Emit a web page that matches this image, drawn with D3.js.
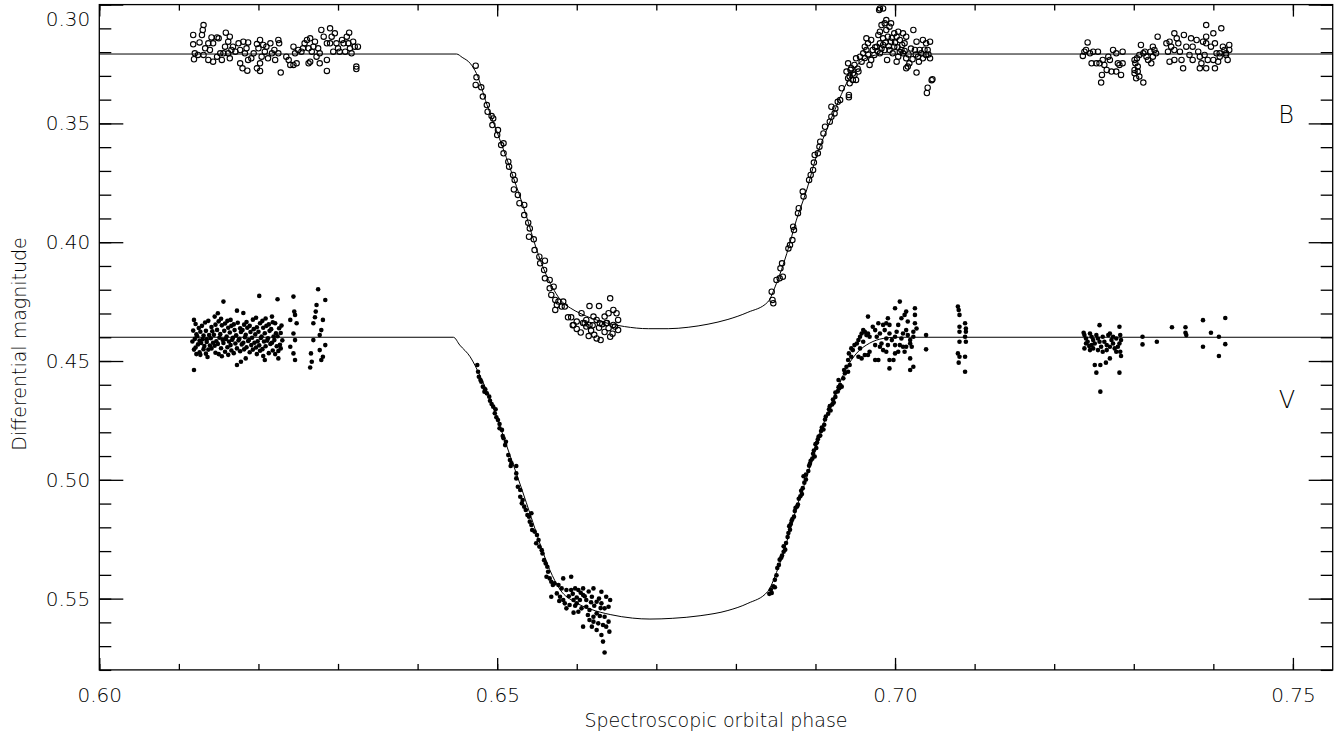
<!DOCTYPE html>
<html><head><meta charset="utf-8">
<script src="https://cdn.jsdelivr.net/npm/d3@7"></script>
<style>
html,body{margin:0;padding:0;background:#fff;}
svg{display:block;}
text{font-family:"DejaVu Sans",sans-serif;font-weight:200;fill:#000;}
</style></head><body>
<svg id="chart" width="1342" height="735"></svg>
<script>
// ---------- axes ----------
const xDomain = [0.60, 0.755];
const yDomain = [0.30, 0.58];
const xMajorTicks = [0.60, 0.65, 0.70, 0.75];
const xTickLabels = ["0.60", "0.65", "0.70", "0.75"];
const yMajorTicks = [0.30, 0.35, 0.40, 0.45, 0.50, 0.55];
const yTickLabels = ["0.30", "0.35", "0.40", "0.45", "0.50", "0.55"];
const xTitle = "Spectroscopic orbital phase";
const yTitle = "Differential magnitude";
const seriesLabels = ["B", "V"];

// ---------- model curves ----------
const bModel = [[0.6000,0.3208],[0.6449,0.3208],[0.6456,0.3222],[0.6466,0.3247],[0.6474,0.3290],[0.6487,0.3420],[0.6503,0.3565],[0.6520,0.3724],[0.6537,0.3893],[0.6549,0.4025],[0.6562,0.4140],[0.6572,0.4205],[0.6580,0.4245],[0.6592,0.4277],[0.6604,0.4299],[0.6620,0.4322],[0.6640,0.4342],[0.6660,0.4355],[0.6690,0.4364],[0.6715,0.4364],[0.6740,0.4358],[0.6765,0.4345],[0.6790,0.4325],[0.6815,0.4295],[0.6840,0.4252],[0.6851,0.4173],[0.6864,0.4047],[0.6876,0.3907],[0.6889,0.3780],[0.6901,0.3640],[0.6914,0.3528],[0.6926,0.3430],[0.6939,0.3331],[0.6951,0.3261],[0.6960,0.3232],[0.6968,0.3219],[0.6985,0.3209],[0.7000,0.3208],[0.7550,0.3208]];
const vModel = [[0.6000,0.4400],[0.6445,0.4400],[0.6453,0.4433],[0.6466,0.4482],[0.6479,0.4566],[0.6490,0.4650],[0.6503,0.4770],[0.6516,0.4896],[0.6530,0.5030],[0.6543,0.5160],[0.6556,0.5290],[0.6566,0.5378],[0.6579,0.5462],[0.6598,0.5515],[0.6617,0.5544],[0.6642,0.5567],[0.6670,0.5582],[0.6692,0.5586],[0.6720,0.5583],[0.6755,0.5572],[0.6790,0.5550],[0.6815,0.5520],[0.6840,0.5470],[0.6851,0.5390],[0.6864,0.5260],[0.6876,0.5120],[0.6889,0.4990],[0.6901,0.4850],[0.6914,0.4730],[0.6926,0.4630],[0.6939,0.4530],[0.6951,0.4470],[0.6968,0.4425],[0.6985,0.4405],[0.7000,0.4400],[0.7550,0.4400]];

// ---------- B band observations (open circles) ----------
const bOutLeft = [[0.6131,0.3086],[0.6130,0.3107],[0.6129,0.3128],[0.6118,0.3128],[0.6118,0.3167],[0.6126,0.3159],[0.6120,0.3205],[0.6119,0.3230],[0.6124,0.3212],[0.6131,0.3212],[0.6133,0.3184],[0.6137,0.3163],[0.6141,0.3138],[0.6148,0.3138],[0.6143,0.3163],[0.6139,0.3191],[0.6137,0.3233],[0.6143,0.3240],[0.6148,0.3219],[0.6152,0.3205],[0.6154,0.3233],[0.6150,0.3142],[0.6159,0.3118],[0.6164,0.3135],[0.6162,0.3156],[0.6158,0.3177],[0.6156,0.3205],[0.6162,0.3205],[0.6166,0.3191],[0.6168,0.3177],[0.6164,0.3226],[0.6171,0.3198],[0.6175,0.3163],[0.6177,0.3191],[0.6181,0.3156],[0.6187,0.3159],[0.6185,0.3184],[0.6183,0.3205],[0.6177,0.3247],[0.6180,0.3268],[0.6186,0.3278],[0.6187,0.3233],[0.6191,0.3226],[0.6194,0.3205],[0.6198,0.3166],[0.6200,0.3184],[0.6202,0.3149],[0.6206,0.3170],[0.6208,0.3198],[0.6204,0.3219],[0.6202,0.3247],[0.6198,0.3268],[0.6202,0.3279],[0.6210,0.3177],[0.6215,0.3163],[0.6217,0.3205],[0.6212,0.3226],[0.6221,0.3233],[0.6220,0.3191],[0.6225,0.3149],[0.6226,0.3163],[0.6225,0.3205],[0.6228,0.3286],[0.6235,0.3219],[0.6238,0.3233],[0.6240,0.3254],[0.6244,0.3177],[0.6246,0.3205],[0.6250,0.3191],[0.6244,0.3254],[0.6248,0.3247],[0.6254,0.3198],[0.6256,0.3184],[0.6258,0.3163],[0.6261,0.3149],[0.6265,0.3142],[0.6263,0.3184],[0.6267,0.3198],[0.6269,0.3177],[0.6271,0.3156],[0.6275,0.3184],[0.6277,0.3205],[0.6273,0.3219],[0.6265,0.3240],[0.6263,0.3247],[0.6277,0.3247],[0.6286,0.3233],[0.6286,0.3279],[0.6279,0.3107],[0.6290,0.3100],[0.6292,0.3135],[0.6282,0.3135],[0.6286,0.3163],[0.6290,0.3163],[0.6296,0.3121],[0.6298,0.3163],[0.6300,0.3184],[0.6305,0.3149],[0.6307,0.3163],[0.6311,0.3135],[0.6314,0.3118],[0.6313,0.3163],[0.6315,0.3184],[0.6319,0.3156],[0.6321,0.3177],[0.6325,0.3177],[0.6317,0.3205],[0.6323,0.3261],[0.6323,0.3271],[0.6294,0.3198],[0.6302,0.3198],[0.6309,0.3198]];
const bIngress = [[0.6473,0.3257],[0.6474,0.3306],[0.6473,0.3338],[0.6480,0.3348],[0.6482,0.3387],[0.6487,0.3423],[0.6488,0.3451],[0.6493,0.3469],[0.6495,0.3479],[0.6494,0.3507],[0.6501,0.3528],[0.6500,0.3549],[0.6505,0.3591],[0.6508,0.3584],[0.6508,0.3626],[0.6514,0.3661],[0.6515,0.3682],[0.6520,0.3717],[0.6522,0.3738],[0.6521,0.3778],[0.6526,0.3801],[0.6528,0.3836],[0.6534,0.3843],[0.6534,0.3886],[0.6539,0.3918],[0.6541,0.3942],[0.6540,0.3977],[0.6546,0.3988],[0.6547,0.4033],[0.6553,0.4061],[0.6554,0.4089],[0.6560,0.4078],[0.6559,0.4117],[0.6560,0.4152],[0.6566,0.4159],[0.6566,0.4194],[0.6571,0.4187],[0.6568,0.4222],[0.6573,0.4243],[0.6577,0.4250],[0.6583,0.4250],[0.6585,0.4271],[0.6581,0.4271],[0.6573,0.4285],[0.6575,0.4264]];
const bBottom = [[0.6642,0.4236],[0.6616,0.4269],[0.6628,0.4269],[0.6589,0.4316],[0.6593,0.4316],[0.6606,0.4299],[0.6600,0.4334],[0.6596,0.4348],[0.6612,0.4327],[0.6621,0.4313],[0.6625,0.4327],[0.6629,0.4341],[0.6635,0.4313],[0.6640,0.4299],[0.6646,0.4285],[0.6650,0.4299],[0.6652,0.4327],[0.6637,0.4341],[0.6646,0.4348],[0.6616,0.4348],[0.6610,0.4341],[0.6600,0.4365],[0.6605,0.4380],[0.6612,0.4355],[0.6618,0.4372],[0.6622,0.4390],[0.6628,0.4360],[0.6632,0.4345],[0.6635,0.4378],[0.6640,0.4362],[0.6645,0.4385],[0.6648,0.4355],[0.6625,0.4405],[0.6630,0.4412],[0.6615,0.4395],[0.6642,0.4398],[0.6652,0.4370],[0.6638,0.4340],[0.6620,0.4350],[0.6608,0.4340],[0.6595,0.4350]];
const bEgress = [[0.6845,0.4208],[0.6846,0.4243],[0.6847,0.4257],[0.6851,0.4159],[0.6855,0.4152],[0.6859,0.4145],[0.6856,0.4110],[0.6858,0.4089],[0.6866,0.4026],[0.6868,0.4012],[0.6871,0.3991],[0.6873,0.3949],[0.6872,0.3935],[0.6878,0.3878],[0.6879,0.3857],[0.6885,0.3808],[0.6884,0.3787],[0.6892,0.3738],[0.6894,0.3717],[0.6897,0.3696],[0.6898,0.3665],[0.6899,0.3633],[0.6903,0.3626],[0.6905,0.3598],[0.6906,0.3577],[0.6910,0.3542],[0.6912,0.3514],[0.6918,0.3493],[0.6920,0.3472],[0.6924,0.3458],[0.6920,0.3430],[0.6925,0.3437],[0.6928,0.3409],[0.6931,0.3402],[0.6933,0.3352],[0.6942,0.3380],[0.6942,0.3390]];
const bTop = [[0.6939,0.3282],[0.6941,0.3310],[0.6943,0.3331],[0.6947,0.3317],[0.6951,0.3317],[0.6949,0.3296],[0.6945,0.3268],[0.6949,0.3254],[0.6954,0.3282],[0.6943,0.3303],[0.6941,0.3247],[0.6951,0.3226],[0.6956,0.3219],[0.6960,0.3205],[0.6964,0.3191],[0.6962,0.3177],[0.6966,0.3163],[0.6964,0.3142],[0.6968,0.3254],[0.6970,0.3233],[0.6974,0.3212],[0.6972,0.3191],[0.6977,0.3177],[0.6981,0.3163],[0.6985,0.3142],[0.6981,0.3114],[0.6983,0.3086],[0.6987,0.3079],[0.6989,0.3107],[0.6993,0.3093],[0.6995,0.3079],[0.6991,0.3135],[0.6995,0.3156],[0.6999,0.3177],[0.7002,0.3135],[0.7004,0.3114],[0.7006,0.3149],[0.7010,0.3121],[0.7014,0.3135],[0.7012,0.3163],[0.7008,0.3191],[0.7004,0.3219],[0.7002,0.3240],[0.7010,0.3205],[0.7014,0.3226],[0.7018,0.3247],[0.7016,0.3261],[0.7014,0.3268],[0.7023,0.3107],[0.7025,0.3191],[0.7029,0.3219],[0.7031,0.3191],[0.7027,0.3156],[0.7035,0.3149],[0.7039,0.3163],[0.7044,0.3156],[0.7041,0.3191],[0.7044,0.3226],[0.7039,0.3212],[0.7035,0.3226],[0.7027,0.3286],[0.6990,0.3233],[0.6981,0.3205],[0.6987,0.3191],[0.6979,0.3128],[0.6970,0.3149],[0.6985,0.3170],[0.6993,0.3191],[0.6997,0.3205],[0.6999,0.3121],[0.6989,0.3065],[0.6985,0.3016],[0.6981,0.3016],[0.6980,0.3023],[0.6975,0.3180],[0.6978,0.3195],[0.6983,0.3185],[0.6988,0.3160],[0.6992,0.3175],[0.6996,0.3140],[0.7000,0.3160],[0.7003,0.3180],[0.7006,0.3200],[0.7009,0.3170],[0.7012,0.3195],[0.7017,0.3210],[0.7020,0.3185],[0.7022,0.3230],[0.7026,0.3210],[0.7030,0.3240],[0.7033,0.3205],[0.7037,0.3190],[0.7042,0.3210],[0.6958,0.3240],[0.6962,0.3225],[0.6966,0.3210],[0.6953,0.3270],[0.6947,0.3290],[0.6944,0.3275],[0.7041,0.3350],[0.7040,0.3372],[0.7047,0.3314],[0.7046,0.3318]];
const bOutRight = [[0.7242,0.3159],[0.7238,0.3198],[0.7236,0.3216],[0.7240,0.3191],[0.7245,0.3205],[0.7249,0.3198],[0.7247,0.3247],[0.7253,0.3247],[0.7255,0.3198],[0.7257,0.3247],[0.7261,0.3233],[0.7263,0.3254],[0.7260,0.3296],[0.7259,0.3328],[0.7266,0.3275],[0.7270,0.3233],[0.7272,0.3282],[0.7268,0.3219],[0.7274,0.3191],[0.7278,0.3205],[0.7280,0.3247],[0.7278,0.3282],[0.7284,0.3296],[0.7282,0.3254],[0.7286,0.3198],[0.7286,0.3247],[0.7301,0.3233],[0.7302,0.3247],[0.7301,0.3275],[0.7301,0.3289],[0.7305,0.3261],[0.7304,0.3226],[0.7307,0.3212],[0.7309,0.3170],[0.7305,0.3282],[0.7307,0.3303],[0.7303,0.3310],[0.7312,0.3328],[0.7312,0.3205],[0.7314,0.3198],[0.7316,0.3219],[0.7318,0.3233],[0.7321,0.3198],[0.7322,0.3247],[0.7324,0.3177],[0.7326,0.3191],[0.7328,0.3205],[0.7330,0.3135],[0.7324,0.3219],[0.7341,0.3163],[0.7343,0.3198],[0.7345,0.3156],[0.7347,0.3177],[0.7351,0.3121],[0.7354,0.3142],[0.7356,0.3163],[0.7351,0.3191],[0.7351,0.3233],[0.7345,0.3240],[0.7358,0.3198],[0.7360,0.3233],[0.7362,0.3268],[0.7363,0.3128],[0.7366,0.3177],[0.7370,0.3212],[0.7372,0.3142],[0.7374,0.3177],[0.7374,0.3233],[0.7379,0.3149],[0.7381,0.3198],[0.7383,0.3219],[0.7385,0.3247],[0.7383,0.3268],[0.7387,0.3156],[0.7391,0.3135],[0.7391,0.3163],[0.7389,0.3212],[0.7393,0.3233],[0.7391,0.3268],[0.7397,0.3177],[0.7400,0.3121],[0.7402,0.3163],[0.7402,0.3268],[0.7404,0.3205],[0.7408,0.3205],[0.7410,0.3100],[0.7408,0.3219],[0.7412,0.3177],[0.7414,0.3191],[0.7416,0.3212],[0.7418,0.3233],[0.7420,0.3170],[0.7420,0.3191],[0.7391,0.3086],[0.7400,0.3233],[0.7406,0.3240],[0.7416,0.3205]];

// ---------- V band observations (filled dots) ----------
const vOutLeft = [[0.6119,0.4327],[0.6121,0.4344],[0.6118,0.4372],[0.6122,0.4388],[0.6120,0.4407],[0.6117,0.4418],[0.6121,0.4443],[0.6119,0.4452],[0.6122,0.4471],[0.6119,0.4538],[0.6125,0.4361],[0.6123,0.4396],[0.6126,0.4414],[0.6124,0.4430],[0.6126,0.4463],[0.6129,0.4352],[0.6127,0.4377],[0.6130,0.4408],[0.6128,0.4424],[0.6131,0.4450],[0.6127,0.4474],[0.6133,0.4338],[0.6134,0.4373],[0.6131,0.4393],[0.6135,0.4420],[0.6132,0.4437],[0.6134,0.4469],[0.6137,0.4331],[0.6138,0.4391],[0.6135,0.4409],[0.6139,0.4435],[0.6137,0.4452],[0.6136,0.4483],[0.6141,0.4357],[0.6142,0.4375],[0.6140,0.4404],[0.6143,0.4423],[0.6141,0.4447],[0.6145,0.4313],[0.6146,0.4347],[0.6144,0.4390],[0.6147,0.4417],[0.6145,0.4436],[0.6146,0.4465],[0.6149,0.4299],[0.6150,0.4333],[0.6148,0.4369],[0.6151,0.4402],[0.6149,0.4428],[0.6150,0.4471],[0.6153,0.4322],[0.6154,0.4350],[0.6152,0.4387],[0.6155,0.4411],[0.6153,0.4446],[0.6154,0.4480],[0.6156,0.4250],[0.6158,0.4342],[0.6157,0.4373],[0.6159,0.4407],[0.6156,0.4424],[0.6158,0.4461],[0.6161,0.4331],[0.6162,0.4360],[0.6160,0.4397],[0.6163,0.4418],[0.6161,0.4442],[0.6162,0.4474],[0.6165,0.4327],[0.6166,0.4352],[0.6164,0.4380],[0.6167,0.4411],[0.6165,0.4433],[0.6166,0.4456],[0.6169,0.4346],[0.6170,0.4370],[0.6168,0.4402],[0.6171,0.4426],[0.6169,0.4467],[0.6173,0.4288],[0.6174,0.4339],[0.6172,0.4392],[0.6175,0.4413],[0.6173,0.4447],[0.6173,0.4517],[0.6177,0.4362],[0.6178,0.4378],[0.6176,0.4406],[0.6179,0.4430],[0.6177,0.4459],[0.6178,0.4503],[0.6181,0.4298],[0.6182,0.4347],[0.6180,0.4370],[0.6183,0.4400],[0.6181,0.4423],[0.6182,0.4451],[0.6185,0.4336],[0.6186,0.4360],[0.6184,0.4390],[0.6187,0.4416],[0.6185,0.4442],[0.6184,0.4489],[0.6189,0.4352],[0.6190,0.4378],[0.6188,0.4412],[0.6191,0.4433],[0.6189,0.4463],[0.6193,0.4326],[0.6194,0.4366],[0.6192,0.4402],[0.6195,0.4423],[0.6193,0.4452],[0.6197,0.4318],[0.6198,0.4358],[0.6196,0.4388],[0.6199,0.4417],[0.6197,0.4443],[0.6198,0.4471],[0.6201,0.4226],[0.6202,0.4341],[0.6200,0.4377],[0.6203,0.4403],[0.6201,0.4434],[0.6202,0.4457],[0.6205,0.4331],[0.6206,0.4360],[0.6204,0.4397],[0.6207,0.4418],[0.6205,0.4450],[0.6206,0.4479],[0.6209,0.4321],[0.6210,0.4352],[0.6208,0.4383],[0.6211,0.4414],[0.6209,0.4438],[0.6208,0.4496],[0.6213,0.4346],[0.6214,0.4373],[0.6212,0.4404],[0.6215,0.4428],[0.6213,0.4467],[0.6217,0.4313],[0.6218,0.4337],[0.6216,0.4366],[0.6219,0.4397],[0.6217,0.4423],[0.6218,0.4456],[0.6221,0.4341],[0.6222,0.4383],[0.6220,0.4412],[0.6223,0.4438],[0.6221,0.4471],[0.6224,0.4240],[0.6226,0.4362],[0.6224,0.4396],[0.6227,0.4432],[0.6225,0.4458],[0.6225,0.4489],[0.6229,0.4351],[0.6228,0.4382],[0.6230,0.4413],[0.6228,0.4447],[0.6244,0.4229],[0.6245,0.4292],[0.6246,0.4306],[0.6240,0.4327],[0.6248,0.4341],[0.6244,0.4384],[0.6246,0.4412],[0.6240,0.4440],[0.6244,0.4468],[0.6246,0.4496],[0.6275,0.4198],[0.6284,0.4243],[0.6273,0.4264],[0.6272,0.4292],[0.6271,0.4316],[0.6281,0.4327],[0.6269,0.4341],[0.6279,0.4370],[0.6277,0.4391],[0.6269,0.4412],[0.6284,0.4433],[0.6277,0.4454],[0.6266,0.4468],[0.6281,0.4482],[0.6267,0.4503],[0.6265,0.4527],[0.6279,0.4496]];
const vIngress = [[0.6475,0.4517],[0.6476,0.4545],[0.6477,0.4566],[0.6479,0.4580],[0.6480,0.4587],[0.6482,0.4608],[0.6485,0.4619],[0.6484,0.4629],[0.6487,0.4636],[0.6490,0.4650],[0.6491,0.4667],[0.6493,0.4681],[0.6495,0.4692],[0.6498,0.4703],[0.6497,0.4720],[0.6499,0.4737],[0.6501,0.4748],[0.6503,0.4765],[0.6503,0.4783],[0.6506,0.4790],[0.6507,0.4816],[0.6508,0.4825],[0.6511,0.4840],[0.6510,0.4854],[0.6514,0.4896],[0.6516,0.4917],[0.6518,0.4931],[0.6517,0.4942],[0.6524,0.4942],[0.6524,0.4973],[0.6524,0.4994],[0.6526,0.5029],[0.6529,0.5043],[0.6529,0.5071],[0.6532,0.5085],[0.6531,0.5099],[0.6534,0.5113],[0.6536,0.5127],[0.6538,0.5148],[0.6540,0.5155],[0.6543,0.5141],[0.6541,0.5176],[0.6543,0.5190],[0.6544,0.5211],[0.6547,0.5218],[0.6550,0.5232],[0.6552,0.5253],[0.6549,0.5267],[0.6553,0.5281],[0.6556,0.5296],[0.6557,0.5310],[0.6559,0.5338],[0.6561,0.5352],[0.6563,0.5366],[0.6564,0.5387],[0.6562,0.5408],[0.6566,0.5415],[0.6568,0.5429],[0.6570,0.5443],[0.6572,0.5436]];
const vBottom = [[0.6568,0.5492],[0.6575,0.5478],[0.6579,0.5492],[0.6583,0.5506],[0.6587,0.5464],[0.6593,0.5464],[0.6598,0.5457],[0.6602,0.5464],[0.6608,0.5457],[0.6621,0.5457],[0.6631,0.5471],[0.6637,0.5492],[0.6642,0.5506],[0.6640,0.5534],[0.6635,0.5541],[0.6631,0.5520],[0.6625,0.5513],[0.6619,0.5492],[0.6612,0.5506],[0.6608,0.5485],[0.6604,0.5506],[0.6600,0.5520],[0.6596,0.5506],[0.6591,0.5527],[0.6587,0.5541],[0.6596,0.5559],[0.6602,0.5555],[0.6606,0.5541],[0.6612,0.5534],[0.6616,0.5548],[0.6614,0.5569],[0.6621,0.5576],[0.6625,0.5562],[0.6629,0.5573],[0.6635,0.5576],[0.6640,0.5597],[0.6637,0.5618],[0.6641,0.5639],[0.6633,0.5611],[0.6627,0.5604],[0.6621,0.5597],[0.6616,0.5590],[0.6608,0.5618],[0.6619,0.5618],[0.6625,0.5632],[0.6631,0.5653],[0.6633,0.5681],[0.6635,0.5727],[0.6583,0.5415],[0.6593,0.5408],[0.6577,0.5443],[0.6581,0.5457],[0.6590,0.5490],[0.6595,0.5480],[0.6600,0.5495],[0.6605,0.5475],[0.6610,0.5490],[0.6615,0.5470],[0.6618,0.5515],[0.6622,0.5530],[0.6628,0.5500],[0.6630,0.5540],[0.6598,0.5530],[0.6585,0.5520],[0.6578,0.5510]];
const vEgress = [[0.6842,0.5480],[0.6844,0.5462],[0.6845,0.5476],[0.6847,0.5448],[0.6849,0.5421],[0.6851,0.5402],[0.6852,0.5371],[0.6854,0.5358],[0.6855,0.5336],[0.6858,0.5319],[0.6860,0.5303],[0.6860,0.5280],[0.6863,0.5266],[0.6865,0.5241],[0.6866,0.5224],[0.6868,0.5210],[0.6869,0.5186],[0.6870,0.5172],[0.6873,0.5155],[0.6874,0.5131],[0.6875,0.5118],[0.6878,0.5104],[0.6879,0.5080],[0.6881,0.5069],[0.6882,0.5046],[0.6884,0.5035],[0.6886,0.5012],[0.6888,0.4999],[0.6888,0.4978],[0.6891,0.4963],[0.6892,0.4941],[0.6893,0.4932],[0.6896,0.4911],[0.6897,0.4890],[0.6898,0.4877],[0.6901,0.4866],[0.6902,0.4843],[0.6903,0.4829],[0.6906,0.4814],[0.6907,0.4795],[0.6908,0.4780],[0.6911,0.4768],[0.6912,0.4746],[0.6913,0.4734],[0.6916,0.4722],[0.6917,0.4703],[0.6918,0.4690],[0.6921,0.4683],[0.6922,0.4662],[0.6925,0.4651],[0.6925,0.4633],[0.6928,0.4628],[0.6929,0.4610],[0.6849,0.5452],[0.6857,0.5328],[0.6862,0.5294],[0.6871,0.5165],[0.6877,0.5112],[0.6885,0.4985],[0.6894,0.4920],[0.6899,0.4902],[0.6904,0.4818],[0.6910,0.4788],[0.6919,0.4708],[0.6923,0.4675],[0.6867,0.5195],[0.6883,0.5060],[0.6900,0.4850]];
const vTop = [[0.6929,0.4580],[0.6931,0.4601],[0.6933,0.4608],[0.6930,0.4615],[0.6935,0.4573],[0.6937,0.4552],[0.6936,0.4538],[0.6939,0.4524],[0.6941,0.4545],[0.6943,0.4517],[0.6941,0.4496],[0.6942,0.4468],[0.6945,0.4482],[0.6947,0.4454],[0.6945,0.4447],[0.6949,0.4433],[0.6952,0.4426],[0.6954,0.4412],[0.6956,0.4398],[0.6958,0.4384],[0.6960,0.4370],[0.6962,0.4377],[0.6964,0.4391],[0.6966,0.4384],[0.6968,0.4398],[0.6960,0.4419],[0.6956,0.4447],[0.6954,0.4482],[0.6958,0.4489],[0.6962,0.4475],[0.6966,0.4475],[0.6968,0.4461],[0.6966,0.4313],[0.6972,0.4356],[0.6975,0.4370],[0.6979,0.4341],[0.6977,0.4398],[0.6981,0.4384],[0.6985,0.4348],[0.6987,0.4370],[0.6989,0.4341],[0.6991,0.4320],[0.6993,0.4348],[0.6993,0.4384],[0.6989,0.4405],[0.6983,0.4426],[0.6981,0.4440],[0.6975,0.4433],[0.6975,0.4496],[0.6979,0.4496],[0.6985,0.4454],[0.6989,0.4461],[0.6991,0.4433],[0.6996,0.4412],[0.7000,0.4398],[0.7002,0.4377],[0.7004,0.4348],[0.7000,0.4278],[0.7006,0.4250],[0.7008,0.4320],[0.7012,0.4306],[0.7014,0.4292],[0.7016,0.4334],[0.7014,0.4370],[0.7010,0.4384],[0.7008,0.4405],[0.7006,0.4433],[0.7004,0.4461],[0.7000,0.4468],[0.6998,0.4496],[0.6993,0.4496],[0.6993,0.4531],[0.7012,0.4461],[0.7014,0.4440],[0.7019,0.4426],[0.7016,0.4391],[0.7023,0.4377],[0.7025,0.4341],[0.7025,0.4306],[0.7025,0.4278],[0.7019,0.4412],[0.7021,0.4440],[0.7023,0.4398],[0.7027,0.4363],[0.7019,0.4489],[0.7019,0.4538],[0.7023,0.4524],[0.7000,0.4433],[0.7010,0.4440],[0.7039,0.4391],[0.7039,0.4451],[0.7079,0.4271],[0.7080,0.4285],[0.7081,0.4306],[0.7081,0.4356],[0.7081,0.4377],[0.7081,0.4419],[0.7079,0.4468],[0.7081,0.4482],[0.7080,0.4507],[0.7088,0.4341],[0.7089,0.4363],[0.7089,0.4377],[0.7088,0.4398],[0.7089,0.4419],[0.7088,0.4482],[0.7088,0.4545]];
const vOutRight = [[0.7237,0.4381],[0.7238,0.4391],[0.7240,0.4405],[0.7242,0.4419],[0.7240,0.4426],[0.7238,0.4447],[0.7245,0.4384],[0.7247,0.4398],[0.7249,0.4412],[0.7251,0.4426],[0.7253,0.4391],[0.7255,0.4405],[0.7257,0.4419],[0.7257,0.4349],[0.7259,0.4440],[0.7261,0.4398],[0.7263,0.4419],[0.7266,0.4433],[0.7268,0.4391],[0.7270,0.4384],[0.7272,0.4412],[0.7274,0.4426],[0.7276,0.4447],[0.7278,0.4405],[0.7282,0.4356],[0.7283,0.4391],[0.7284,0.4412],[0.7282,0.4426],[0.7283,0.4461],[0.7284,0.4479],[0.7280,0.4440],[0.7270,0.4489],[0.7266,0.4454],[0.7261,0.4461],[0.7255,0.4454],[0.7249,0.4447],[0.7245,0.4454],[0.7251,0.4517],[0.7253,0.4549],[0.7258,0.4517],[0.7265,0.4507],[0.7258,0.4629],[0.7282,0.4549],[0.7247,0.4433],[0.7274,0.4398],[0.7270,0.4440],[0.7244,0.4437],[0.7278,0.4461],[0.7311,0.4398],[0.7311,0.4430],[0.7329,0.4419],[0.7348,0.4358],[0.7365,0.4358],[0.7365,0.4381],[0.7366,0.4391],[0.7387,0.4328],[0.7387,0.4440],[0.7397,0.4381],[0.7407,0.4398],[0.7407,0.4479],[0.7415,0.4319],[0.7415,0.4429]];

// ---------- drawing ----------
const W = 1342, H = 735;
const m = {left: 99.3, right: 1342 - 1332.7, top: 4.6, bottom: 735 - 669.9};
const svg = d3.select("#chart");
const x = d3.scaleLinear().domain(xDomain).range([m.left, W - m.right]);
const y = d3.scaleLinear().domain(yDomain).range([m.top, H - m.bottom]);

const xMinor = d3.range(60, 76).map(d => d / 100);
const yMinor = d3.range(30, 59).map(d => d / 100);

const g = svg.append("g");
const line = d3.line().x(d => x(d[0])).y(d => y(d[1])).curve(d3.curveMonotoneX);
[bModel, vModel].forEach(md => {
  g.append("path").attr("d", line(md)).attr("fill", "none").attr("stroke", "#000").attr("stroke-width", 1);
});

const bAll = [].concat(bOutLeft, bIngress, bBottom, bEgress, bTop, bOutRight);
const vAll = [].concat(vOutLeft, vIngress, vBottom, vEgress, vTop, vOutRight);

g.selectAll("circle.b").data(bAll).join("circle").attr("class", "b")
  .attr("cx", d => x(d[0])).attr("cy", d => y(d[1])).attr("r", 2.7)
  .attr("fill", "none").attr("stroke", "#000").attr("stroke-width", 1.1);
g.selectAll("circle.v").data(vAll).join("circle").attr("class", "v")
  .attr("cx", d => x(d[0])).attr("cy", d => y(d[1])).attr("r", 2.3)
  .attr("fill", "#000");

function styleAxis(sel) {
  sel.select(".domain").remove();
  sel.selectAll("line").attr("stroke", "#000").attr("stroke-width", 1.3);
  sel.selectAll("text").attr("font-size", 20).attr("fill", "#000")
     .attr("font-family", '"DejaVu Sans", sans-serif').attr("font-weight", 200);
}
const X0 = m.left, X1 = W - m.right, Y0 = m.top, Y1 = H - m.bottom;

svg.append("g").attr("transform", `translate(0,${Y1})`)
  .call(d3.axisBottom(x).tickValues(xMinor).tickSize(-6).tickFormat("")).call(styleAxis);
svg.append("g").attr("transform", `translate(0,${Y1})`)
  .call(d3.axisBottom(x).tickValues(xMajorTicks).tickSize(-12).tickPadding(18)
    .tickFormat((d, i) => xTickLabels[i])).call(styleAxis);
svg.append("g").attr("transform", `translate(0,${Y0})`)
  .call(d3.axisTop(x).tickValues(xMinor).tickSize(-6).tickFormat("")).call(styleAxis);
svg.append("g").attr("transform", `translate(0,${Y0})`)
  .call(d3.axisTop(x).tickValues(xMajorTicks).tickSize(-12).tickFormat("")).call(styleAxis);

svg.append("g").attr("transform", `translate(${X0},0)`)
  .call(d3.axisLeft(y).tickValues(yMinor).tickSize(-12).tickFormat("")).call(styleAxis);
const yl = svg.append("g").attr("transform", `translate(${X0},0)`)
  .call(d3.axisLeft(y).tickValues(yMajorTicks).tickSize(-24).tickPadding(9)
    .tickFormat((d, i) => yTickLabels[i])).call(styleAxis);
yl.selectAll(".tick text").filter((d, i) => i === 0).attr("dy", "1.05em");
svg.append("g").attr("transform", `translate(${X1},0)`)
  .call(d3.axisRight(y).tickValues(yMinor).tickSize(-12).tickFormat("")).call(styleAxis);
svg.append("g").attr("transform", `translate(${X1},0)`)
  .call(d3.axisRight(y).tickValues(yMajorTicks).tickSize(-24).tickFormat("")).call(styleAxis);

svg.append("rect").attr("x", X0).attr("y", Y0).attr("width", X1 - X0).attr("height", Y1 - Y0)
  .attr("fill", "none").attr("stroke", "#000").attr("stroke-width", 1.3);

svg.append("text").attr("x", (X0 + X1) / 2).attr("y", 727).attr("text-anchor", "middle")
  .attr("font-size", 19).text(xTitle);
svg.append("text").attr("transform", "translate(26,344) rotate(-90)").attr("text-anchor", "middle")
  .attr("font-size", 19).text(yTitle);

svg.append("text").attr("x", 1286).attr("y", 123).attr("text-anchor", "middle").attr("font-size", 24).text(seriesLabels[0]);
svg.append("text").attr("x", 1287).attr("y", 408).attr("text-anchor", "middle").attr("font-size", 24).text(seriesLabels[1]);
</script>
</body></html>
